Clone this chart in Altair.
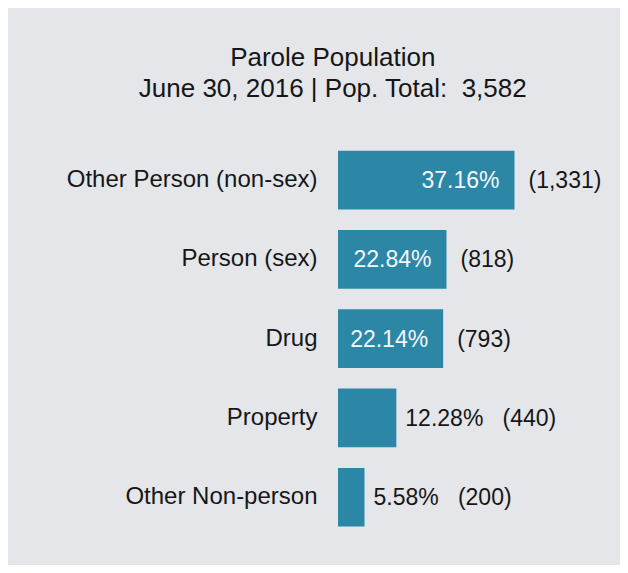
import altair as alt
import pandas as pd

categories = ["Other Person (non-sex)", "Person (sex)", "Drug", "Property", "Other Non-person"]
percents = [37.16, 22.84, 22.14, 12.28, 5.58]
counts = [1331, 818, 793, 440, 200]
title_lines = ["Parole Population", "June 30, 2016 | Pop. Total:\u00a0 3,582"]

NBSP = "\u00a0"
rows = []
for c, p, n in zip(categories, percents, counts):
    inside = p >= 20
    pct_txt = f"{p:.2f}%"
    cnt_txt = f"({n:,})"
    rows.append({
        "category": c,
        "pct": p,
        "inside": inside,
        "pct_txt": pct_txt,
        "cnt_txt": cnt_txt,
        "out_txt": pct_txt + NBSP * 3 + cnt_txt,
    })
df = pd.DataFrame(rows)

FONT = "Liberation Sans"
BAR = "#2c87a7"
DARK = "#161616"

y = alt.Y(
    "category:N",
    sort=categories,
    scale=alt.Scale(paddingInner=0.26, paddingOuter=0.13),
    axis=alt.Axis(
        title=None, ticks=False, domain=False, labelPadding=21,
        labelFontSize=24, labelFont=FONT, labelColor=DARK, labelLimit=400,
    ),
)
x = alt.X("pct:Q", scale=alt.Scale(domain=[0, 58], nice=False), axis=None)

base = alt.Chart(df)

bars = base.mark_bar(color=BAR).encode(x=x, y=y)

inside_pct = base.transform_filter("datum.inside").mark_text(
    align="right", baseline="middle", dx=-15, dy=1, fontSize=23, font=FONT, color="#f4f8fa"
).encode(x=x, y=y, text="pct_txt:N")

inside_cnt = base.transform_filter("datum.inside").mark_text(
    align="left", baseline="middle", dx=14, dy=1, fontSize=23, font=FONT, color=DARK
).encode(x=x, y=y, text="cnt_txt:N")

outside = base.transform_filter("!datum.inside").mark_text(
    align="left", baseline="middle", dx=9, dy=1, fontSize=23, font=FONT, color=DARK
).encode(x=x, y=y, text="out_txt:N")

chart = alt.layer(bars, inside_pct, inside_cnt, outside).properties(
    width=275.5,
    height=396.5,
    autosize=alt.AutoSizeParams(type="none"),
    padding={"left": 330, "top": 132.4, "right": 6.5, "bottom": 28.1},
    title=alt.TitleParams(
        text=title_lines, fontSize=26, font=FONT, fontWeight="normal", color=DARK,
        anchor="middle", frame="group", dx=-143, lineHeight=31, offset=38,
    ),
).configure(background="#e4e6ea").configure_view(stroke=None)

chart.save("out.html", embed_options={"renderer": "svg", "actions": False})
